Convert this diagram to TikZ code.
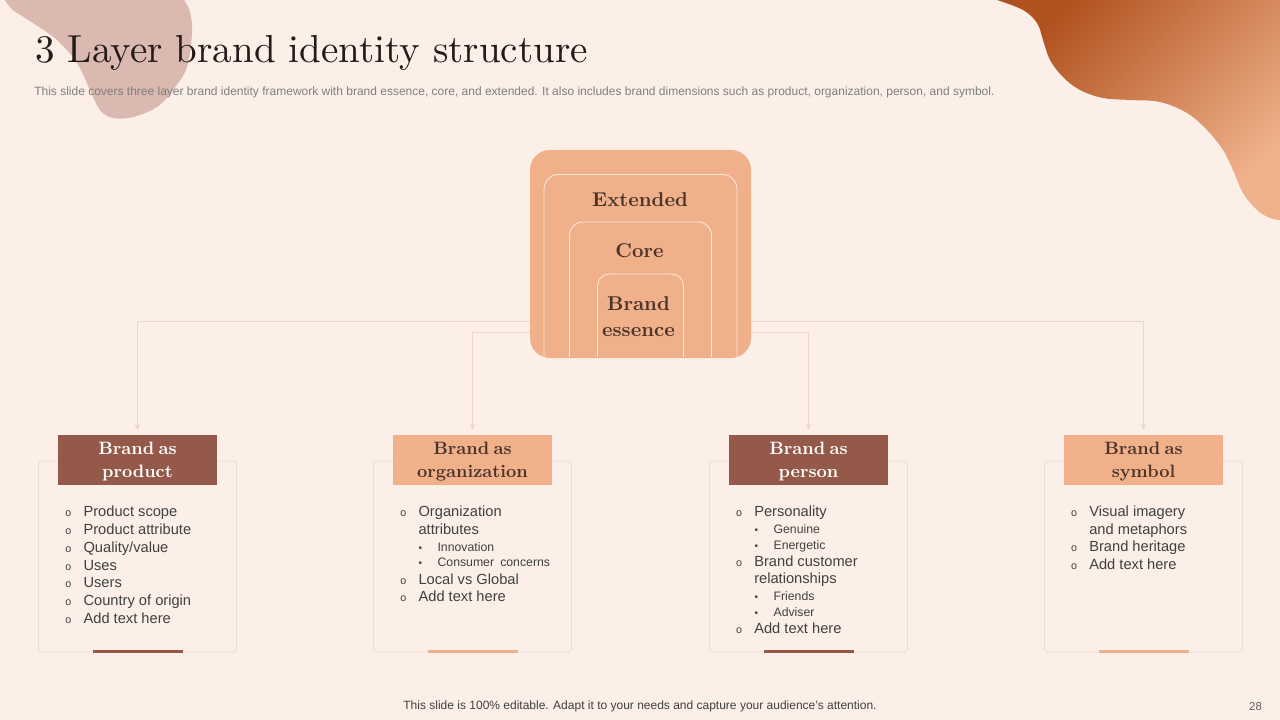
\documentclass[tikz,border=0pt]{standalone}
\usepackage{fontspec}
\setsansfont{Liberation Sans}
\newfontfamily\serifx{lmroman10-regular.otf}[BoldFont=lmroman10-bold.otf]
\usetikzlibrary{arrows.meta}
\definecolor{bg}{HTML}{FCEFE8}
\definecolor{blobpink}{HTML}{D9B9B0}
\definecolor{blobdark}{HTML}{B0521E}
\definecolor{bloblight}{HTML}{F0B28C}
\definecolor{peach}{HTML}{EFB08A}
\definecolor{brown}{HTML}{955949}
\definecolor{framecol}{HTML}{FCE7D7}
\definecolor{titlecol}{HTML}{231C1A}
\definecolor{boxtext}{HTML}{4B342A}
\definecolor{txt}{HTML}{404040}
\definecolor{subcol}{HTML}{7F7F7F}
\definecolor{cardline}{HTML}{EBDCD4}
\definecolor{conncol}{HTML}{EBD6CB}
\newcommand\itemfont{\sffamily\fontsize{11}{13}\selectfont}
\newcommand\subfont{\sffamily\fontsize{9.2}{11}\selectfont}
\newcommand\hdfont{\serifx\bfseries\fontsize{13.4}{17.2}\selectfont\spaceskip=0.25em plus 0.1em\relax}
\newcommand\mainli[4]{\node[bul] (#1o) at (#2-15,#3) {o};\node[item] (#1) at (#2,#3) {#4};}
\newcommand\subli[4]{\node[dotb] (#1o) at (#2-17,#3) {\textbullet};\node[subitem] (#1) at (#2,#3) {#4};}
\begin{document}
\begin{tikzpicture}[x=0.75pt,y=-0.75pt,
  item/.style={anchor=base west,inner sep=0pt,font=\itemfont,text=txt},
  subitem/.style={anchor=base west,inner sep=0pt,font=\subfont,text=txt},
  bul/.style={anchor=base,inner sep=0pt,font=\sffamily\fontsize{8}{9}\selectfont,text=txt},
  dotb/.style={anchor=base,inner sep=0pt,font=\sffamily\fontsize{7.5}{9}\selectfont,text=txt},
  card/.style={draw=cardline,line width=0.6pt,fill=bg,rounded corners=2.5pt,minimum width=148.5pt,minimum height=143.25pt,inner sep=0pt},
  headbox/.style={minimum width=119.25pt,minimum height=37.5pt,inner sep=0pt},
  headtxt/.style={inner sep=0pt,align=center,font=\hdfont},
  barbox/.style={minimum width=67.5pt,minimum height=2.6pt,inner sep=0pt},
  conn/.style={draw=conncol,line width=0.7pt,-{Stealth[length=4.5pt,width=4pt]},shorten >=3.5pt},
  frame/.style={draw=framecol,line width=0.7pt},
  boxlbl/.style={inner sep=0pt,text=boxtext,font=\serifx\bfseries\fontsize{15}{18}\selectfont}]
\useasboundingbox (0,0) rectangle (1280,720);
\fill[bg] (0,0) rectangle (1280,720);
% top-left blob
\fill[blobpink] plot[smooth,tension=0.6] coordinates {(5,0) (13,10) (33,23) (57,40) (77,63) (90,90) (100,110) (113,118) (133,117) (157,107) (173,90) (187,67) (192,33) (190,12) (184,0)} -- cycle;
% top-right blob
\shade[top color=blobdark,bottom color=bloblight,shading angle=45]
  plot[smooth,tension=0.6] coordinates {(997,0) (1023,10) (1037,23) (1043,40) (1050,60) (1063,77) (1080,90) (1103,98) (1130,100) (1160,102) (1187,113) (1207,130) (1223,150) (1233,170) (1243,193) (1257,210) (1270,218) (1280,220)} -- (1280,0) -- cycle;
% title
\node[anchor=base west,inner sep=0pt,text=titlecol,font=\serifx\fontsize{29.3}{34}\selectfont] (title) at (35,63) {3 Layer brand identity structure};
\node[anchor=base west,inner sep=0pt,text=subcol,font=\sffamily\fontsize{9}{10}\selectfont] (subtitle) at (34,96) {This slide covers three layer brand identity framework with brand essence, core, and extended. It also includes brand dimensions such as product, organization, person, and symbol.};
% central box
\node[fill=peach,rounded corners=15pt,minimum width=165.75pt,minimum height=156pt,inner sep=0pt] (box) at (640.5,254) {};
\draw[frame,rounded corners=11pt] (544,357) -- (544,174.5) -- (737,174.5) -- (737,357);
\draw[frame,rounded corners=10pt] (569.5,357) -- (569.5,222) -- (711.5,222) -- (711.5,357);
\draw[frame,rounded corners=9pt] (597.5,357) -- (597.5,274) -- (683.5,274) -- (683.5,357);
\node[boxlbl] (ext) at (640,200) {Extended};
\node[boxlbl] (core) at (639.5,251) {Core};
\node[boxlbl,align=center,font=\serifx\bfseries\fontsize{15}{19.5}\selectfont] (ess) at (638.5,317) {Brand\\essence};
% cards
\node[card] (c1) at (137.5,556.5) {};
\node[card] (c2) at (472.5,556.5) {};
\node[card] (c3) at (808.5,556.5) {};
\node[card] (c4) at (1143.5,556.5) {};
\node[headbox,fill=brown] (h1) at (137.5,460) {};
\node[headbox,fill=peach] (h2) at (472.5,460) {};
\node[headbox,fill=brown] (h3) at (808.5,460) {};
\node[headbox,fill=peach] (h4) at (1143.5,460) {};
\node[headtxt,text=white] (t1) at (137.5,461.5) {Brand as\\product};
\node[headtxt,text=boxtext] (t2) at (472.5,461.5) {Brand as\\organization};
\node[headtxt,text=white] (t3) at (808.5,461.5) {Brand as\\person};
\node[headtxt,text=boxtext] (t4) at (1143.5,461.5) {Brand as\\symbol};
\node[barbox,fill=brown] (b1) at (137.5,651.7) {};
\node[barbox,fill=peach] (b2) at (472.5,651.7) {};
\node[barbox,fill=brown] (b3) at (808.5,651.7) {};
\node[barbox,fill=peach] (b4) at (1143.5,651.7) {};
% connectors
\coordinate (la) at (530,321);
\coordinate (lb) at (530,332);
\coordinate (ra) at (751,321);
\coordinate (rb) at (751,332);
\draw[conn] (la) -| (h1.north);
\draw[conn] (lb) -| (h2.north);
\draw[conn] (rb) -| (h3.north);
\draw[conn] (ra) -| (h4.north);
% lists: product
\mainli{pa}{83.3}{516.7}{Product scope}
\mainli{pb}{83.3}{534.4}{Product attribute}
\mainli{pc}{83.3}{552.2}{Quality/value}
\mainli{pd}{83.3}{570}{Uses}
\mainli{pe}{83.3}{587.8}{Users}
\mainli{pf}{83.3}{605.5}{Country of origin}
\mainli{pg}{83.3}{623.3}{Add text here}
% organization
\mainli{oa}{418.3}{516.7}{Organization}
\node[item] (oa2) at (418.3,534.3) {attributes};
\subli{ob}{437.3}{551}{Innovation}
\subli{oc}{437.3}{566.7}{Consumer\hspace{0.5em}concerns}
\mainli{od}{418.3}{584}{Local vs Global}
\mainli{oe}{418.3}{601.7}{Add text here}
% person
\mainli{qa}{754}{516.7}{Personality}
\subli{qb}{773.3}{533.3}{Genuine}
\subli{qc}{773.3}{549.3}{Energetic}
\mainli{qd}{754}{566.7}{Brand customer}
\node[item] (qd2) at (754,583.3) {relationships};
\subli{qe}{773.3}{600}{Friends}
\subli{qf}{773.3}{616.7}{Adviser}
\mainli{qg}{754}{633.3}{Add text here}
% symbol
\mainli{sa}{1089}{516.7}{Visual imagery}
\node[item] (sa2) at (1089,534.3) {and metaphors};
\mainli{sb}{1089}{551.7}{Brand heritage}
\mainli{sc}{1089}{569.3}{Add text here}
% footer
\node[anchor=base,inner sep=0pt,text=txt,font=\sffamily\fontsize{9}{10}\selectfont] (foot) at (640,709) {This slide is 100\% editable. Adapt it to your needs and capture your audience's attention.};
\node[anchor=base,inner sep=0pt,text=txt!85,font=\sffamily\fontsize{8.6}{10}\selectfont] (pnum) at (1255.5,710) {28};
\end{tikzpicture}
\end{document}
